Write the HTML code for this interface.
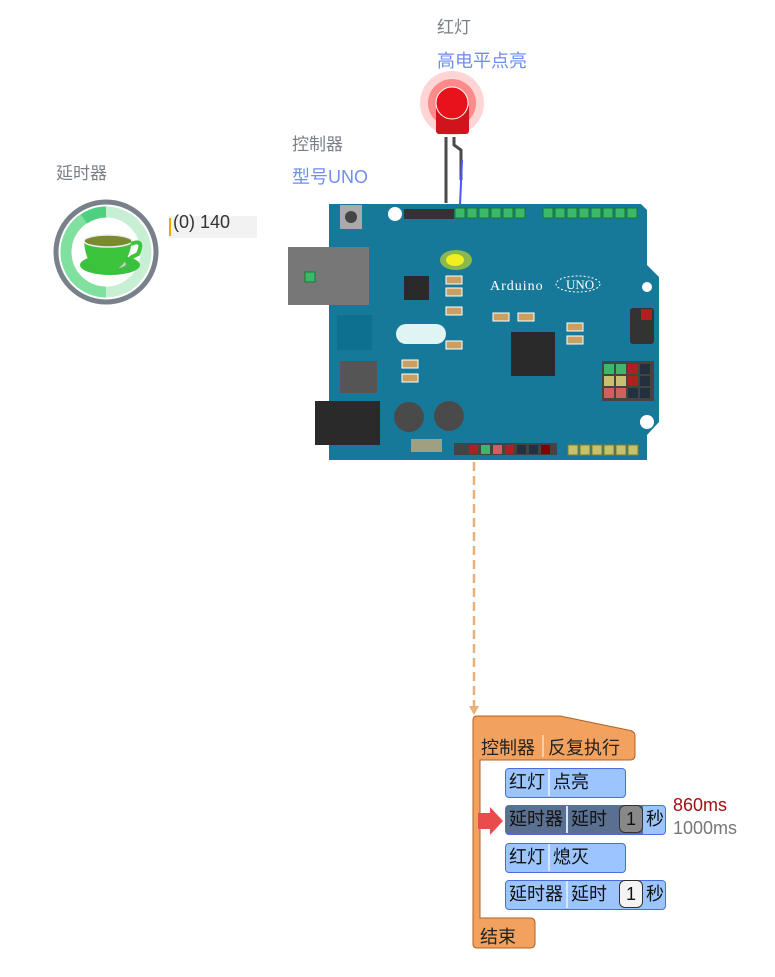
<!DOCTYPE html>
<html><head><meta charset="utf-8"><style>
html,body{margin:0;padding:0;background:#fff;width:775px;height:977px;overflow:hidden}
body{position:relative;font-family:"Liberation Sans","Noto Sans CJK SC",sans-serif}
.t{position:absolute;font-size:17px;white-space:nowrap}
.g{color:#7a8088}.b{color:#6e8ef0}
.blk{position:absolute;box-sizing:border-box;background:#9cc4ff;border:1.5px solid #4a6ee0;border-radius:4px;height:30px;font-size:18px;line-height:27px;color:#111;white-space:nowrap}
.blk span{display:inline-block;padding:0 3px}
.sep{border-left:2px solid #d8e6ff}
.num{position:absolute;top:-1px;width:24px;height:28px;border:1.5px solid #333;border-radius:6px;background:#f4f4f4;text-align:center;line-height:26px;box-sizing:border-box}
</style></head><body>
<div class="t g" style="left:56px;top:159px">延时器</div>
<div class="t g" style="left:292px;top:130px">控制器</div>
<div class="t b" style="left:292px;top:163px;font-size:18px">型号UNO</div>
<div class="t g" style="left:437px;top:13px">红灯</div>
<div class="t b" style="left:437px;top:47px;font-size:18px">高电平点亮</div>
<div style="position:absolute;left:169px;top:216px;width:88px;height:22px;background:#f2f2f2"></div>
<div style="position:absolute;left:169px;top:218px;width:2px;height:18px;background:#f5a400"></div>
<div class="t" style="left:173px;top:212px;color:#333;font-size:18px">(0) 140</div>

<svg width="775" height="977" style="position:absolute;left:0;top:0" xmlns="http://www.w3.org/2000/svg">
<circle cx="106" cy="252" r="50" fill="#fff" stroke="#78808a" stroke-width="5"/>
<circle cx="106" cy="252" r="40" fill="none" stroke="#c8efd4" stroke-width="11"/>
<path d="M106 212 A40 40 0 0 0 66 252 A40 40 0 0 0 106 292" fill="none" stroke="#7fe0a0" stroke-width="11"/>
<path d="M84 219 A40 40 0 0 1 106 212" fill="none" stroke="#4fd080" stroke-width="11"/>
<ellipse cx="110" cy="265" rx="30" ry="10" fill="#3cc040"/>
<ellipse cx="110" cy="264" rx="16" ry="5" fill="#ccc"/>
<path d="M84 241 Q86 270 106 273 Q128 270 132 241 Z" fill="#3dc43d"/>
<ellipse cx="108" cy="241" rx="24" ry="6" fill="#7a8a30" stroke="#eee" stroke-width="1.5"/>
<path d="M131 244 Q145 238 138 254 L130 258" fill="none" stroke="#3dc43d" stroke-width="4"/>
<path d="M474 462 V712" stroke="#e8b07a" stroke-width="2.5" stroke-dasharray="9,5" fill="none"/>
<path d="M469 706 L474 715 L479 706 Z" fill="#e8b07a"/>
<circle cx="452" cy="103" r="32" fill="#ffd4d4"/>
<circle cx="452" cy="103" r="24" fill="#ff8a8a"/>
<rect x="436" y="104" width="33" height="30" rx="3" fill="#d0141c"/>
<circle cx="452" cy="103" r="16" fill="#e8121a" stroke="#fff" stroke-width="1"/>
<path d="M446 137 V203 M454 137 V145 L461 150 V180" stroke="#4a4a4a" stroke-width="3" fill="none"/>
<path d="M462 160 L460 205" stroke="#4a55ff" stroke-width="2" fill="none"/>
<path d="M329 204 H641 L647 210 V265 L659 277 V422 L647 435 V460 H329 Z" fill="#17799a"/>
<rect x="288" y="247" width="81" height="58" fill="#777"/>
<rect x="305" y="272" width="10" height="10" fill="#3cb86a" stroke="#1a7a30"/>
<rect x="340" y="205" width="22" height="24" fill="#aaa"/><circle cx="351" cy="217" r="6" fill="#444"/>
<circle cx="395" cy="214" r="7" fill="#fff"/><circle cx="647" cy="422" r="7" fill="#fff"/><circle cx="647" cy="287" r="5" fill="#fff"/>
<rect x="404" y="209" width="50" height="10" fill="#333"/>
<g fill="#3cb86a" stroke="#1a7a30" stroke-width="1">
<rect x="455" y="208" width="10" height="10"/><rect x="467" y="208" width="10" height="10"/><rect x="479" y="208" width="10" height="10"/><rect x="491" y="208" width="10" height="10"/><rect x="503" y="208" width="10" height="10"/><rect x="515" y="208" width="10" height="10"/>
<rect x="543" y="208" width="10" height="10"/><rect x="555" y="208" width="10" height="10"/><rect x="567" y="208" width="10" height="10"/><rect x="579" y="208" width="10" height="10"/><rect x="591" y="208" width="10" height="10"/><rect x="603" y="208" width="10" height="10"/><rect x="615" y="208" width="10" height="10"/><rect x="627" y="208" width="10" height="10"/>
</g>
<ellipse cx="456" cy="260" rx="16" ry="10" fill="#8ab84a"/><ellipse cx="455" cy="260" rx="9" ry="6" fill="#f0f020"/>
<rect x="404" y="276" width="25" height="24" fill="#2a2a2a"/>
<rect x="337" y="315" width="35" height="35" fill="#0e7090"/>
<rect x="396" y="324" width="50" height="20" rx="10" fill="#e0f4f4"/>
<rect x="511" y="332" width="44" height="44" fill="#2a2a2a"/>
<rect x="340" y="361" width="37" height="32" fill="#555"/>
<rect x="315" y="401" width="65" height="44" fill="#2a2a2a"/>
<circle cx="409" cy="417" r="15" fill="#4a4a4a"/><circle cx="449" cy="416" r="15" fill="#4a4a4a"/>
<rect x="411" y="439" width="31" height="13" fill="#a0a080"/>
<rect x="454" y="443" width="103" height="12" fill="#444"/>
<g stroke-width="1"><rect x="469" y="445" width="9" height="9" fill="#b02020"/><rect x="481" y="445" width="9" height="9" fill="#3cb86a"/><rect x="493" y="445" width="9" height="9" fill="#d06060"/><rect x="505" y="445" width="9" height="9" fill="#b02020"/><rect x="517" y="445" width="9" height="9" fill="#243040"/><rect x="529" y="445" width="9" height="9" fill="#243040"/><rect x="541" y="445" width="9" height="9" fill="#800000"/></g>
<g fill="#c8c070" stroke="#808020"><rect x="568" y="445" width="10" height="10"/><rect x="580" y="445" width="10" height="10"/><rect x="592" y="445" width="10" height="10"/><rect x="604" y="445" width="10" height="10"/><rect x="616" y="445" width="10" height="10"/><rect x="628" y="445" width="10" height="10"/></g>
<rect x="602" y="361" width="52" height="40" fill="#444"/>
<rect x="604" y="364" width="10" height="10" fill="#3cb86a"/><rect x="616" y="364" width="10" height="10" fill="#3cb86a"/><rect x="628" y="364" width="10" height="10" fill="#b02020"/><rect x="640" y="364" width="10" height="10" fill="#243040"/>
<rect x="604" y="376" width="10" height="10" fill="#c8c070"/><rect x="616" y="376" width="10" height="10" fill="#c8c070"/><rect x="628" y="376" width="10" height="10" fill="#b02020"/><rect x="640" y="376" width="10" height="10" fill="#243040"/>
<rect x="604" y="388" width="10" height="10" fill="#d06060"/><rect x="616" y="388" width="10" height="10" fill="#d06060"/><rect x="628" y="388" width="10" height="10" fill="#243040"/><rect x="640" y="388" width="10" height="10" fill="#243040"/>
<rect x="630" y="308" width="24" height="36" rx="3" fill="#333"/><rect x="641" y="309" width="11" height="11" fill="#b02020"/>
<text x="490" y="290" fill="#fff" font-family="Liberation Serif,serif" font-size="14" letter-spacing="1">Arduino</text>
<ellipse cx="578" cy="284" rx="22" ry="8" fill="none" stroke="#fff" stroke-dasharray="2,2"/>
<text x="566" y="289" fill="#fff" font-family="Liberation Serif,serif" font-size="13">UNO</text>
<g fill="#c9a060" stroke="#fff" stroke-width="1"><rect x="446" y="307" width="16" height="8"/><rect x="446" y="341" width="16" height="8"/><rect x="493" y="313" width="16" height="8"/><rect x="518" y="313" width="16" height="8"/><rect x="567" y="323" width="16" height="8"/><rect x="567" y="336" width="16" height="8"/><rect x="402" y="360" width="16" height="8"/><rect x="402" y="374" width="16" height="8"/><rect x="446" y="276" width="16" height="8"/><rect x="446" y="288" width="16" height="8"/></g>
<path d="M473 720 Q473 716 477 716 H560 L628 730 Q635 731 635 736 V755 Q635 760 630 760 H480 V918 H530 Q535 918 535 923 V943 Q535 948 530 948 H477 Q473 948 473 944 Z" fill="#f2a25e" stroke="#b0621e" stroke-width="1"/>
<line x1="543" y1="735" x2="543" y2="757" stroke="#fbe0c8" stroke-width="1.5"/>
<path d="M478 813 H490 V807 L503 821 L490 835 V829 H478 Z" fill="#e84c4c"/>
</svg>
<div class="t" style="left:481px;top:734px;color:#222;font-size:18px">控制器</div>
<div class="t" style="left:548px;top:734px;color:#222;font-size:18px">反复执行</div>
<div class="t" style="left:480px;top:923px;color:#222;font-size:18px">结束</div>

<div class="blk" style="left:505px;top:768px;width:121px"><span>红灯</span><span class="sep">点亮</span></div>
<div class="blk" style="left:505px;top:805px;width:161px;background:linear-gradient(90deg,#5a7092 0,#5a7092 137px,#9cc4ff 137px)"><span>延时器</span><span class="sep">延时</span><div class="num" style="left:113px;background:#888">1</div><span style="position:absolute;left:137px">秒</span></div>
<div class="blk" style="left:505px;top:843px;width:121px"><span>红灯</span><span class="sep">熄灭</span></div>
<div class="blk" style="left:505px;top:880px;width:161px"><span>延时器</span><span class="sep">延时</span><div class="num" style="left:113px">1</div><span style="position:absolute;left:137px">秒</span></div>
<div class="t" style="left:673px;top:795px;color:#a01010;font-size:18px">860ms</div>
<div class="t" style="left:673px;top:818px;color:#777;font-size:18px">1000ms</div>
</body></html>
